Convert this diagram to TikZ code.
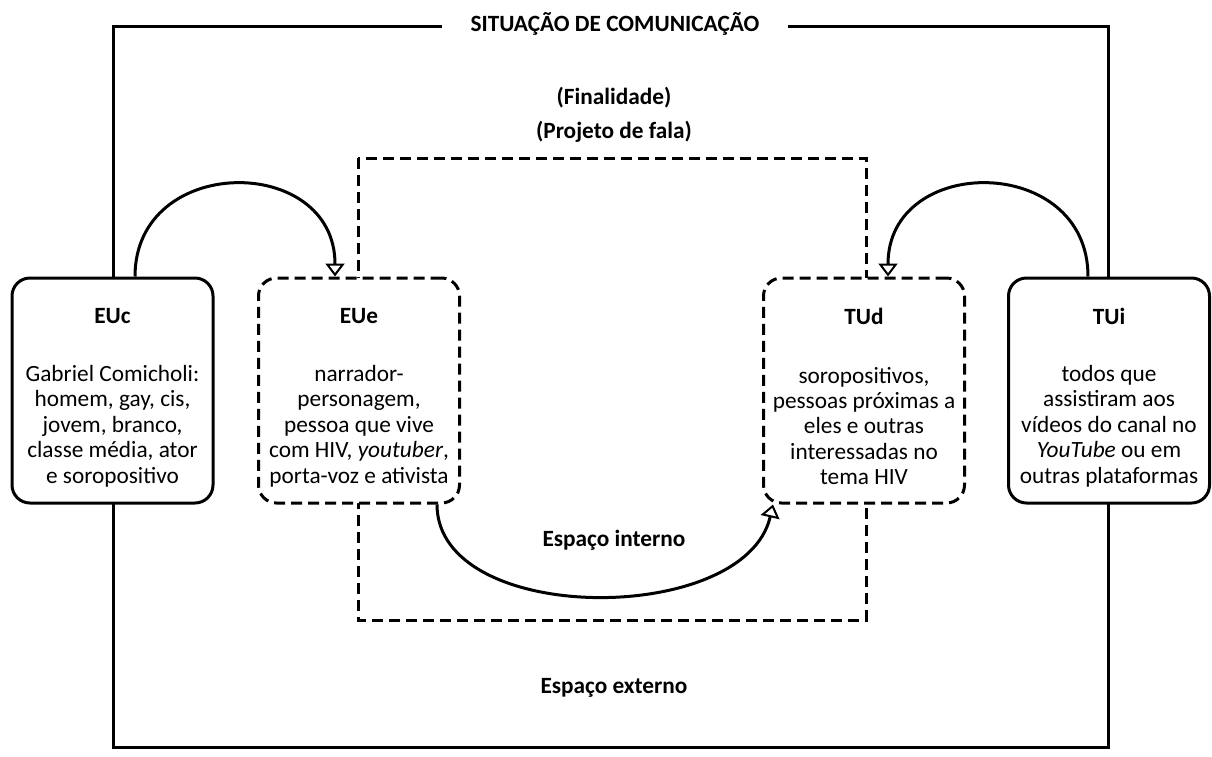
\documentclass[tikz,border=0pt]{standalone}
\usepackage{fontspec}
\setmainfont{Carlito}
\usetikzlibrary{arrows.meta}
\begin{document}
\begin{tikzpicture}[x=1pt,y=-1pt,
  every node/.style={font=\fontsize{23.3}{25.4}\selectfont, inner sep=0pt},
  outerline/.style={line width=3pt},
  dashline/.style={line width=3pt, dash pattern=on 11pt off 6pt},
  solidbox/.style={draw, line width=3pt, fill=white, rounded corners=18pt, minimum width=201pt, minimum height=225pt},
  dashbox/.style={solidbox, dash pattern=on 11pt off 6pt},
  lbl/.style={font=\fontsize{23.3}{25.4}\selectfont\bfseries},
  body/.style={align=center},
  flow/.style={line width=3pt, -{Triangle[open, fill=white, length=13pt, width=19pt, line width=2pt]}}
]
\useasboundingbox (0,0) rectangle (1212,756);
% outer frame
\draw[outerline] (113,26) rectangle (1108,747);
\node[lbl, fill=white, inner xsep=29pt, inner ysep=4pt] (title) at (615,24) {SITUAÇÃO DE COMUNICAÇÃO};
\node[lbl] (fin) at (614,98) {(Finalidade)};
\node[lbl] (proj) at (614,132) {(Projeto de fala)};
% inner dashed rectangle
\draw[dashline] (358,158) rectangle (866,620);
\node[lbl] (interno) at (614,540) {Espaço interno};
\node[lbl] (externo) at (614,688) {Espaço externo};
% boxes
\node[solidbox] (EUc) at (112.5,390.5) {};
\node[dashbox] (EUe) at (359,390.5) {};
\node[dashbox] (TUd) at (864,390.5) {};
\node[solidbox] (TUi) at (1109,390.5) {};
% box texts
\node[lbl] (EUct) at (112.5,316) {EUc};
\node[body] (EUcb) at (112.5,426) {Gabriel Comicholi:\\homem, gay, cis,\\jovem, branco,\\classe média, ator\\e soropositivo};
\node[lbl] (EUet) at (359,316) {EUe};
\node[body] (EUeb) at (359,426) {narrador-\\personagem,\\pessoa que vive\\com HIV, \textit{youtuber},\\porta-voz e ativista};
\node[lbl] (TUdt) at (864,316) {TUd};
\node[body] (TUdb) at (864,426) {soropositivos,\\pessoas próximas a\\eles e outras\\interessadas no\\tema HIV};
\node[lbl] (TUit) at (1109,316) {TUi};
\node[body] (TUib) at (1109,426) {todos que\\assistiram aos\\vídeos do canal no\\\textit{YouTube} ou em\\outras plataformas};
% connectors
\draw[flow] ([xshift=22.5pt]EUc.north) .. controls +(0,-123) and +(0,-123) .. ([xshift=-24pt]EUe.north);
\draw[flow] ([xshift=-21pt]TUi.north) .. controls +(0,-123) and +(0,-123) .. ([xshift=24pt]TUd.north);
\draw[flow] ([xshift=78pt]EUe.south) .. controls +(0,122) and +(-28,122) .. ([xshift=-91pt]TUd.south);
\end{tikzpicture}
\end{document}
